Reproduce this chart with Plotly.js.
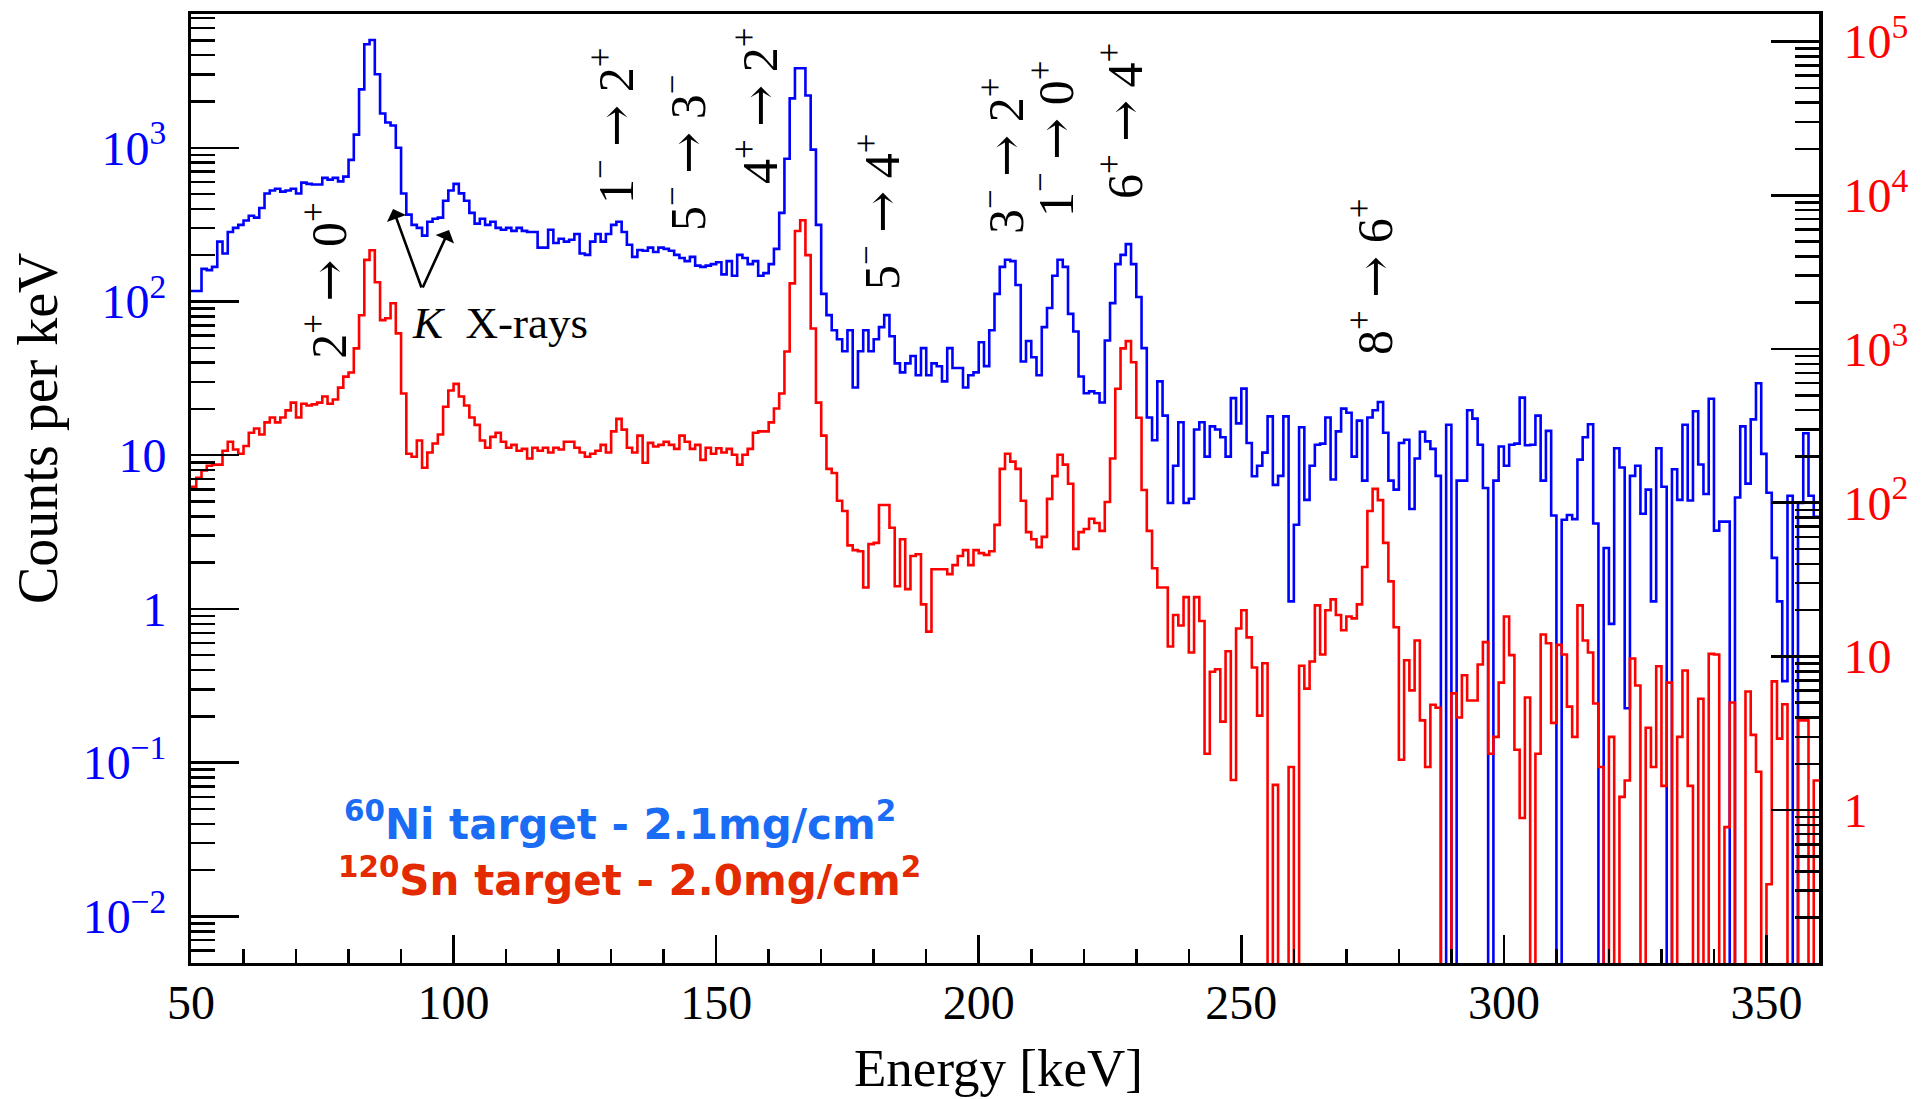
<!DOCTYPE html>
<html>
<head>
<meta charset="utf-8">
<script src="https://cdn.plot.ly/plotly-3.0.1.min.js"></script>
<style>
html,body{margin:0;padding:0;background:#ffffff;}
#chart{width:1930px;height:1099px;}
</style>
</head>
<body>
<div id="chart"></div>
<script>
// ---------------- data ----------------
const binStartKeV = 50;   // low edge of first bin
const binWidthKeV = 1;    // bin width

// 60Ni target spectrum (left axis), counts per keV, bins 50..359 keV
const ni60Counts = [
  117, 117, 163, 160, 168, 245, 205, 283, 301, 315,
  336, 361, 351, 406, 504, 527, 541, 518, 527, 541,
  504, 593, 582, 577, 577, 637, 620, 637, 604, 649,
  834, 1218, 2397, 4710, 5020, 3006, 1672, 1459, 1396, 1000,
  504, 367, 315, 301, 268, 330, 345, 351, 452, 527,
  582, 505, 452, 377, 321, 345, 315, 330, 301, 293,
  301, 288, 301, 288, 283, 283, 224, 224, 293, 240,
  256, 245, 252, 275, 205, 201, 245, 275, 245, 275,
  315, 330, 283, 234, 195, 216, 214, 224, 210, 224,
  220, 214, 201, 192, 183, 195, 171, 168, 171, 175,
  180, 150, 183, 147, 201, 192, 175, 183, 147, 153,
  175, 220, 377, 849, 2094, 3289, 3289, 2189, 973, 315,
  112, 81.5, 65, 56.8, 47.5, 65, 27.6, 47.5, 65, 47.5,
  56.8, 68.1, 81.5, 59.4, 39.6, 34.6, 39.6, 44.2, 33.1, 49.7,
  33.1, 39.6, 37.9, 30.2, 49.7, 36.9, 36.9, 27.6, 33.1, 34.6,
  54.3, 38, 65, 112, 168, 187, 183, 128, 40.7, 55.3,
  43.4, 33.1, 68.1, 90.8, 147, 187, 168, 83, 63.8, 32.5,
  25.3, 26, 25.3, 22, 55.8, 97.6, 175, 201, 236, 175,
  107, 49.7, 17.6, 12.5, 30.2, 18.1, 4.89, 8.55, 16.4, 4.89,
  5.21, 14.7, 16.4, 9.79, 15.4, 14.7, 13.1, 9.79, 23.5, 16.1,
  27.1, 12, 7.3, 8.55, 10.4, 17.9, 6.41, 7.34, 17.9, 1.12,
  3.53, 15.2, 5.12, 8.55, 11.7, 11.9, 17.6, 6.95, 14.3, 20.1,
  18.9, 9.79, 16.8, 6.83, 17.6, 19.6, 22.2, 14, 6.83, 5.97,
  12, 12.6, 4.47, 9.53, 14.2, 12.3, 11, 7.34, 0, 15.8,
  0, 6.83, 6.83, 19.6, 17.3, 11.7, 6.12, 0, 6.83, 11.4,
  8.55, 11.7, 11.9, 23.7, 11.6, 11.7, 18.1, 6.83, 14.4, 4.05,
  0, 3.8, 4.08, 3.84, 9.36, 13.1, 15.9, 3.6, 0, 2.49,
  0.8, 11.1, 8.32, 0.226, 7.34, 8.55, 4.16, 5.97, 1.12, 11.1,
  6.24, 0, 8.11, 5.12, 15.8, 5.07, 19.3, 8.71, 5.6, 23.3,
  3.23, 3.7, 3.7, 0, 5.31, 15.4, 6.53, 17.1, 29.4, 10.2,
  5.7, 2.15, 1.12, 0.339, 5.45, 0, 4.9, 13.9, 5.45, 3.97
];

// 120Sn target spectrum (right axis), counts per keV, bins 50..359 keV
const sn120Counts = [
  127, 145, 162, 174, 177, 177, 218, 249, 222, 208,
  234, 285, 304, 278, 333, 358, 333, 358, 399, 448,
  358, 440, 429, 436, 448, 491, 440, 469, 561, 661,
  703, 1009, 1656, 3797, 4385, 2720, 1541, 1584, 1985, 1264,
  513, 208, 199, 254, 169, 212, 243, 278, 421, 537,
  593, 491, 429, 358, 321, 254, 228, 268, 285, 249,
  228, 238, 218, 224, 194, 228, 218, 228, 212, 228,
  222, 249, 249, 228, 212, 199, 208, 218, 238, 212,
  291, 351, 299, 228, 212, 273, 182, 245, 232, 238,
  249, 238, 224, 273, 249, 224, 238, 190, 228, 208,
  226, 212, 224, 205, 177, 205, 224, 285, 291, 291,
  333, 410, 513, 964, 2670, 5850, 6880, 4080, 1360, 448,
  273, 166, 156, 103, 88.3, 52.8, 49.2, 48.3, 28.1, 53.8,
  54.8, 96.7, 96.7, 68.7, 28.6, 57.8, 27.4, 45, 46.2, 21.8,
  14.5, 36.9, 36.9, 36.9, 34.3, 39.3, 45, 49.2, 39.3, 49.2,
  47, 45.8, 48.3, 71.8, 166, 208, 185, 166, 103, 64.4,
  57.8, 51.4, 60, 106, 149, 205, 177, 133, 50.1, 64.4,
  67.4, 78.7, 73.8, 65.6, 101, 194, 551, 1009, 1125, 820,
  357, 121, 65.6, 37.5, 28.1, 28.1, 11.6, 18.6, 15.9, 24.3,
  10.6, 24.3, 17, 2.33, 7.96, 8.26, 3.77, 10.8, 1.57, 15.2,
  20, 13.3, 8.48, 4.12, 9.03, 0, 1.46, 0, 0, 1.91,
  0, 8.71, 6.18, 9.27, 21.5, 10.3, 20, 23.5, 18.6, 14.8,
  18.2, 17.7, 21.8, 38.2, 88.3, 123, 104, 54.8, 30.8, 15.5,
  2.13, 9.44, 6.02, 12.7, 3.84, 1.91, 4.85, 4.64, 0, 0,
  5.75, 4.01, 7.54, 5.17, 5.17, 8.87, 12.4, 2.33, 3, 6.76,
  18.2, 10.2, 2.47, 0.89, 5.41, 0, 2.33, 13.9, 12.2, 3.7,
  11.9, 10.3, 4.72, 3, 21.5, 12.7, 10.6, 4.94, 1.91, 0,
  3, 0, 1.22, 1.56, 9.7, 6.47, 0, 3.44, 1.91, 8.63,
  1.44, 6.76, 0, 3, 8.11, 1.44, 0, 5.31, 0, 10.4,
  10.3, 0, 0.776, 5.02, 0, 0, 5.91, 3.09, 1.78, 0,
  0.33, 6.88, 2.92, 4.89, 0, 0, 3.84, 3.84, 0, 1.56
];

const xTickVals = [50, 100, 150, 200, 250, 300, 350];
const leftTickVals = [0.01, 0.1, 1, 10, 100, 1000];
const leftTickText = ['10<sup>\u22122</sup>', '10<sup>\u22121</sup>', '1', '10', '10<sup>2</sup>', '10<sup>3</sup>'];
const rightTickVals = [1, 10, 100, 1000, 10000, 100000];
const rightTickText = ['1', '10', '10<sup>2</sup>', '10<sup>3</sup>', '10<sup>4</sup>', '10<sup>5</sup>'];

// transitions: [initial spin, initial parity, final spin, final parity]
const transitionSpins = [
  ['2', '+', '0', '+'], ['1', '\u2212', '2', '+'], ['5', '\u2212', '3', '\u2212'],
  ['4', '+', '2', '+'], ['5', '\u2212', '4', '+'], ['3', '\u2212', '2', '+'],
  ['1', '\u2212', '0', '+'], ['6', '+', '4', '+'], ['8', '+', '6', '+']
];
const legendTexts = [
  '<sup>60</sup>Ni target - 2.1mg/cm<sup>2</sup>',
  '<sup>120</sup>Sn target - 2.0mg/cm<sup>2</sup>'
];

// ---------------- layout helpers ----------------
// label centre positions (paper fractions)
const transitionPos = [
  [0.0829, 0.7190], [0.2592, 0.8820], [0.3034, 0.8535], [0.3477, 0.9031],
  [0.4226, 0.7914], [0.4988, 0.8504], [0.5295, 0.8683], [0.5719, 0.8872],
  [0.7254, 0.7229]
];

function stepTrace(counts, color, yaxis, name) {
  const x = [], y = [];
  for (let i = 0; i < counts.length; i++) {
    x.push(binStartKeV + i * binWidthKeV);
    y.push(counts[i] > 0 ? counts[i] : 1e-9);   // empty bins drop below the frame
  }
  x.push(binStartKeV + counts.length * binWidthKeV);
  y.push(counts[counts.length - 1] > 0 ? counts[counts.length - 1] : 1e-9);
  return {
    type: 'scatter', mode: 'lines', x: x, y: y, yaxis: yaxis, name: name,
    line: {shape: 'hv', color: color, width: 2.6}, hoverinfo: 'skip', showlegend: false
  };
}

function minorLog(lo, hi) {
  const v = [];
  for (let d = lo; d <= hi; d++) for (let m = 2; m <= 9; m++) v.push(m * Math.pow(10, d));
  return v;
}
const xMinor = [];
for (let e = 60; e <= 360; e += 10) if (e % 50 !== 0) xMinor.push(e);

const serif = 'Liberation Serif';
const arrowSpan = '<span style="font-family:DejaVu Serif">\u2192</span>';

const annotations = [];
transitionSpins.forEach((t, i) => {
  annotations.push({
    xref: 'paper', yref: 'paper', x: transitionPos[i][0], y: transitionPos[i][1],
    text: t[0] + '<sup>' + t[1] + '</sup> ' + arrowSpan + ' ' + t[2] + '<sup>' + t[3] + '</sup>',
    textangle: -90, showarrow: false, xanchor: 'center', yanchor: 'middle',
    font: {family: serif, size: 50, color: '#000'}
  });
});
annotations.push({
  xref: 'paper', yref: 'paper', x: 0.1898, y: 0.6744, text: '<i>K</i>  X-rays',
  showarrow: false, xanchor: 'center', yanchor: 'middle',
  font: {family: serif, size: 45, color: '#000'}
});
// K X-ray arrows
annotations.push({xref: 'paper', yref: 'paper', x: 0.1241, y: 0.7945, ax: 29, ay: 80, text: '',
  showarrow: true, arrowhead: 1, arrowsize: 1.3, arrowwidth: 2.6, arrowcolor: '#000'});
annotations.push({xref: 'paper', yref: 'paper', x: 0.1585, y: 0.7724, ax: -27, ay: 59, text: '',
  showarrow: true, arrowhead: 1, arrowsize: 1.3, arrowwidth: 2.6, arrowcolor: '#000'});
// legend texts
annotations.push({xref: 'paper', yref: 'paper', x: 0.093, y: 0.1486, text: '<b>' + legendTexts[0] + '</b>',
  showarrow: false, xanchor: 'left', yanchor: 'middle',
  font: {family: 'DejaVu Sans', size: 42, color: '#1a6cf4'}});
annotations.push({xref: 'paper', yref: 'paper', x: 0.089, y: 0.0906, text: '<b>' + legendTexts[1] + '</b>',
  showarrow: false, xanchor: 'left', yanchor: 'middle',
  font: {family: 'DejaVu Sans', size: 42, color: '#e42a00'}});
// axis titles
annotations.push({xref: 'paper', yref: 'paper', x: (38 - 191) / 1628, y: (963 - 428) / 949,
  text: 'Counts per keV', textangle: -90, showarrow: false, xanchor: 'center', yanchor: 'middle',
  font: {family: serif, size: 56, color: '#000'}});
annotations.push({xref: 'paper', yref: 'paper', x: (998 - 191) / 1628, y: (963 - 1068) / 949,
  text: 'Energy [keV]', showarrow: false, xanchor: 'center', yanchor: 'middle',
  font: {family: serif, size: 53, color: '#000'}});

const layout = {
  width: 1930, height: 1099,
  margin: {l: 191, r: 111, t: 14, b: 136, pad: 0},
  paper_bgcolor: '#fff', plot_bgcolor: '#fff',
  showlegend: false,
  xaxis: {
    range: [50, 360], showgrid: false, zeroline: false,
    showline: true, linecolor: '#000', linewidth: 3, mirror: true,
    ticks: 'inside', ticklen: 28, tickwidth: 2.5, tickcolor: '#000',
    tickvals: xTickVals, ticktext: xTickVals.map(String),
    tickfont: {family: serif, size: 48, color: '#000'}, ticklabelstandoff: -5,
    minor: {tickvals: xMinor, ticks: 'inside', ticklen: 14, tickwidth: 2.5, tickcolor: '#000', showgrid: false}
  },
  yaxis: {
    type: 'log', range: [-2.303, 3.870], showgrid: false, zeroline: false,
    showline: true, linecolor: '#000', linewidth: 3,
    ticks: 'inside', ticklen: 48, tickwidth: 2.5, tickcolor: '#000',
    tickvals: leftTickVals, ticktext: leftTickText,
    tickfont: {family: serif, size: 48, color: '#0000ff'}, ticklabelstandoff: 12,
    minor: {tickvals: minorLog(-3, 3), ticks: 'inside', ticklen: 24, tickwidth: 2.5, tickcolor: '#000', showgrid: false}
  },
  yaxis2: {
    type: 'log', range: [-0.994, 5.179], overlaying: 'y', side: 'right',
    showgrid: false, zeroline: false,
    showline: true, linecolor: '#000', linewidth: 4,
    ticks: 'inside', ticklen: 48, tickwidth: 2.5, tickcolor: '#000',
    tickvals: rightTickVals, ticktext: rightTickText,
    tickfont: {family: serif, size: 48, color: '#ff0000'}, ticklabelstandoff: 11,
    minor: {tickvals: minorLog(-2, 5), ticks: 'inside', ticklen: 24, tickwidth: 2.5, tickcolor: '#000', showgrid: false}
  },
  annotations: annotations
};

const data = [
  stepTrace(ni60Counts, '#0000ff', 'y', '60Ni'),
  stepTrace(sn120Counts, '#ff0000', 'y2', '120Sn')
];

Plotly.newPlot('chart', data, layout, {staticPlot: true, displayModeBar: false});
</script>
</body>
</html>
